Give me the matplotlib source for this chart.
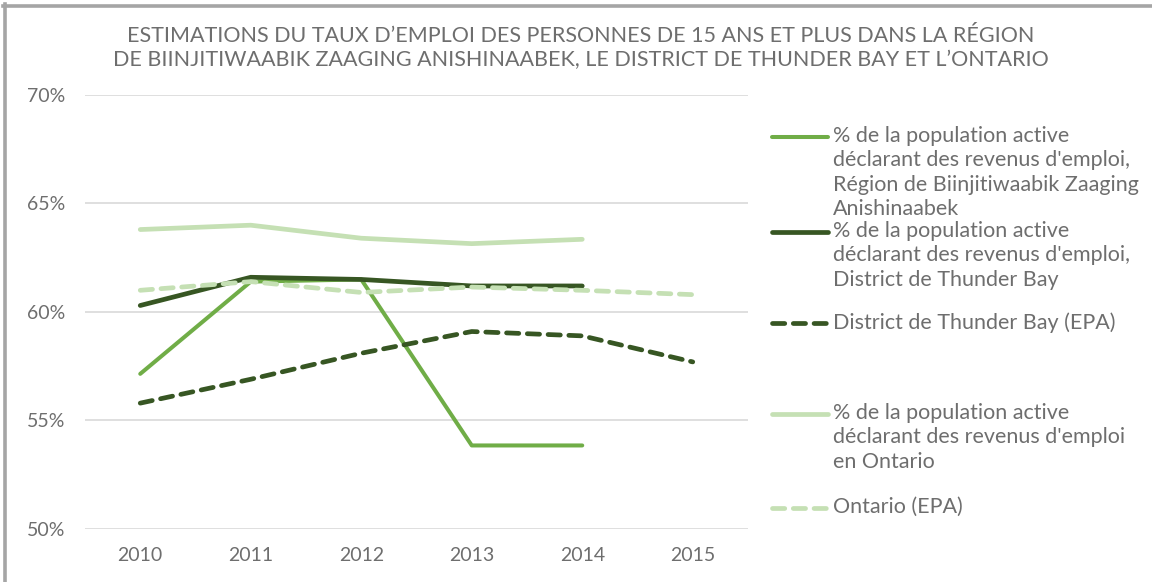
import matplotlib
matplotlib.use("Agg")
import matplotlib.pyplot as plt
from matplotlib.lines import Line2D
from matplotlib.ticker import FuncFormatter

years = [2010, 2011, 2012, 2013, 2014, 2015]
biinji = [57.15, 61.4, 61.5, 53.85, 53.85, None]
tb_revenus = [60.3, 61.6, 61.5, 61.2, 61.2, None]
tb_epa = [55.8, 56.9, 58.1, 59.1, 58.9, 57.7]
ont_revenus = [63.8, 64.0, 63.4, 63.15, 63.35, None]
ont_epa = [61.0, 61.4, 60.9, 61.15, 61.0, 60.8]

labels = [
    "% de la population active\ndéclarant des revenus d'emploi,\nRégion de Biinjitiwaabik Zaaging\nAnishinaabek",
    "% de la population active\ndéclarant des revenus d'emploi,\nDistrict de Thunder Bay",
    "District de Thunder Bay (EPA)",
    "% de la population active\ndéclarant des revenus d'emploi\nen Ontario",
    "Ontario (EPA)",
]
title = ("ESTIMATIONS DU TAUX D\u2019EMPLOI DES PERSONNES DE 15 ANS ET PLUS DANS LA RÉGION\n"
         "DE BIINJITIWAABIK ZAAGING ANISHINAABEK, LE DISTRICT DE THUNDER BAY ET L\u2019ONTARIO")

C_MID = "#70AD47"
C_DARK = "#375623"
C_LIGHT = "#C5E0B4"
TXT = "#6E6E6E"

plt.rcParams['font.family'] = ['Lato', 'DejaVu Sans']

W, H = 1152, 582
fig = plt.figure(figsize=(W / 100, H / 100), dpi=100)
ax = fig.add_axes([85 / W, 1 - 529 / H, (748 - 85) / W, (529 - 95) / H])

def clean(vals):
    xs = [y for y, v in zip(years, vals) if v is not None]
    vs = [v for v in vals if v is not None]
    return xs, vs

series = [
    (biinji, C_MID, '-', 2.9),
    (tb_revenus, C_DARK, '-', 3.4),
    (tb_epa, C_DARK, '--', 3.4),
    (ont_revenus, C_LIGHT, '-', 3.4),
    (ont_epa, C_LIGHT, '--', 3.4),
]
draw_order = [3, 4, 1, 2, 0]
for i in draw_order:
    vals, col, ls, lw = series[i]
    xs, vs = clean(vals)
    kw = dict(color=col, lw=lw, solid_capstyle='round', dash_capstyle='round', zorder=3 + i * 0.1)
    if ls == '--':
        ax.plot(xs, vs, dashes=(2.6, 1.8), **kw)
    else:
        ax.plot(xs, vs, **kw)

ax.set_xlim(2009.5, 2015.5)
ax.set_ylim(50, 70)
ax.set_yticks([50, 55, 60, 65, 70])
ax.set_xticks(years)
ax.yaxis.set_major_formatter(FuncFormatter(lambda v, p: f"{v:.0f}%"))
ax.grid(axis='y', color='#D9D9D9', lw=1.2)
ax.set_axisbelow(True)
for s in ax.spines.values():
    s.set_visible(False)
ax.tick_params(length=0, labelsize=14, labelcolor=TXT)
ax.tick_params(axis='y', pad=14)
ax.tick_params(axis='x', pad=13)

fig.text(581 / W, 1 - 48 / H, title, ha='center', va='center', fontsize=15.5,
         color=TXT, linespacing=1.3)

# legend (manual placement)
leg_y = [137, 232, 323, 414, 508]
for (vals, col, ls, lw), lab, y in zip(series, labels, leg_y):
    yy = 1 - y / H
    kw = dict(color=col, lw=lw, solid_capstyle='round', dash_capstyle='round',
              transform=fig.transFigure)
    if ls == '--':
        ln = Line2D([772 / W, 828 / W], [yy, yy], dashes=(2.6, 1.8), **kw)
    else:
        ln = Line2D([772 / W, 828 / W], [yy, yy], **kw)
    fig.add_artist(ln)
    fig.text(833 / W, yy + 11 / H, lab, ha='left', va='top', fontsize=15.5,
             color=TXT, linespacing=1.27)

# outer frame
fig.add_artist(Line2D([3 / W, 1.0], [1 - 5.5 / H, 1 - 5.5 / H], color='#A5A5A5', lw=2.6,
                      transform=fig.transFigure))
fig.add_artist(Line2D([5 / W, 5 / W], [0, 1 - 4 / H], color='#A5A5A5', lw=2.6,
                      transform=fig.transFigure))

fig.savefig("out.png", dpi=100)
